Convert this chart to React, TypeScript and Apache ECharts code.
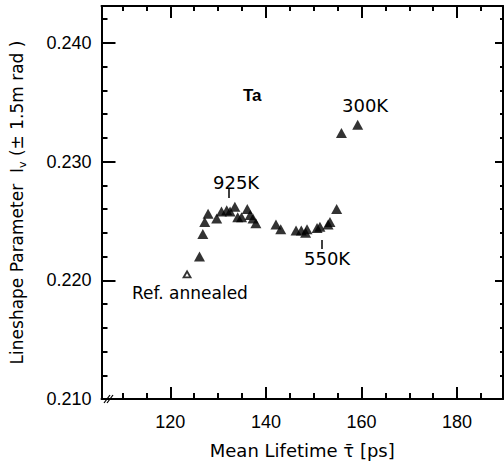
import React, { useEffect, useRef } from "react";
import * as echarts from "echarts";

// Mean lifetime [ps] and lineshape parameter (filled triangles)
const lifetime = [126.1, 126.8, 127.2, 127.9, 129.7, 130.7, 131.8, 132.5, 133.5, 134.1, 134.9, 136.1, 136.7, 137.3, 137.9, 142.1, 143.1, 146.3, 147.4, 148.3, 148.6, 150.7, 151.3, 153.0, 153.4, 154.8, 155.8, 159.2];
const lineshape = [0.2220, 0.2239, 0.2249, 0.2256, 0.2252, 0.2258, 0.2259, 0.2258, 0.2262, 0.2253, 0.2253, 0.2260, 0.2255, 0.2252, 0.2248, 0.2247, 0.2243, 0.2242, 0.2242, 0.2240, 0.2243, 0.2244, 0.2245, 0.2247, 0.2249, 0.2260, 0.2324, 0.2331];
// Reference annealed sample (open triangle)
const refLifetime = [123.5];
const refLineshape = [0.2205];

const xMajorTicks = [120, 140, 160, 180];
const xMinorTicks = [110, 115, 120, 125, 130, 135, 140, 145, 150, 155, 160, 165, 170, 175, 180, 185];
const yMajorTicks = [0.210, 0.220, 0.230, 0.240];
const yMinorTicks = [0.210, 0.212, 0.214, 0.216, 0.218, 0.220, 0.222, 0.224, 0.226, 0.228, 0.230, 0.232, 0.234, 0.236, 0.238, 0.240, 0.242];

const X_MIN = 105.6;
const X_MAX = 189.6;
const Y_MIN = 0.21;
const Y_MAX = 0.2431;

const FONT = "Liberation Sans";
const NFONT = "DejaVu Sans";

export default function App() {
  const ref = useRef<HTMLDivElement>(null);
  useEffect(() => {
    if (!ref.current) return;
    const chart = echarts.init(ref.current, undefined, { renderer: "svg" });
    const line = { show: true, lineStyle: { color: "#000", width: 2 } };
    const noLine = { show: false };
    const xBase = { type: "value", min: X_MIN, max: X_MAX, splitLine: { show: false } };
    const yBase = { type: "value", min: Y_MIN, max: Y_MAX, splitLine: { show: false } };
    const tick = (vals: number[], len: number, w: number) => ({
      show: true, inside: true, length: len, customValues: vals,
      lineStyle: { color: "#000", width: w },
    });
    chart.setOption({
      animation: false,
      backgroundColor: "#fff",
      grid: { left: 100, top: 6, right: 1, bottom: 72 },
      xAxis: [
        { ...xBase, position: "bottom", axisLine: line, axisTick: tick(xMinorTicks, 6, 2),
          axisLabel: { show: true, customValues: xMajorTicks, margin: 14, fontSize: 18, fontFamily: FONT, color: "#000" },
          name: "Mean Lifetime \u03C4\u0304 [ps]", nameLocation: "middle", nameGap: 42,
          nameTextStyle: { fontSize: 18, fontFamily: NFONT, color: "#000" } },
        { ...xBase, position: "bottom", axisLine: noLine, axisTick: tick(xMajorTicks, 12, 2), axisLabel: { show: false } },
        { ...xBase, position: "top", axisLine: line, axisTick: tick(xMinorTicks, 5, 2), axisLabel: { show: false } },
        { ...xBase, position: "top", axisLine: noLine, axisTick: tick(xMajorTicks, 12, 2), axisLabel: { show: false } },
      ],
      yAxis: [
        { ...yBase, position: "left", axisLine: line, axisTick: tick(yMinorTicks, 6, 2),
          axisLabel: { show: true, customValues: yMajorTicks, margin: 10, fontSize: 18, fontFamily: FONT, color: "#000",
            formatter: (v: number) => v.toFixed(3) },
          name: "{t|Lineshape Parameter  I}{s|v}{t| (\u00B1 1.5m rad )}", nameLocation: "middle", nameGap: 74,
          nameTextStyle: { color: "#000", rich: {
            t: { fontSize: 17, fontFamily: NFONT, color: "#000", lineHeight: 22 },
            s: { fontSize: 11, fontFamily: NFONT, color: "#000", lineHeight: 22, verticalAlign: "bottom" },
          } } },
        { ...yBase, position: "left", axisLine: noLine, axisTick: tick(yMajorTicks, 14, 2), axisLabel: { show: false } },
        { ...yBase, position: "right", axisLine: line, axisTick: tick(yMinorTicks, 3, 2), axisLabel: { show: false } },
        { ...yBase, position: "right", axisLine: noLine, axisTick: tick(yMajorTicks, 8, 2), axisLabel: { show: false } },
      ],
      series: [
        { type: "scatter", xAxisIndex: 0, yAxisIndex: 0, symbol: "triangle", symbolSize: [11, 10],
          itemStyle: { color: "#000" }, data: lifetime.map((x, i) => [x, lineshape[i]]) },
        { type: "scatter", xAxisIndex: 0, yAxisIndex: 0, symbol: "triangle", symbolSize: [7, 6],
          itemStyle: { color: "#fff", borderColor: "#000", borderWidth: 1.8 },
          data: refLifetime.map((x, i) => [x, refLineshape[i]]) },
      ],
      graphic: [
        { type: "text", x: 243, y: 95, style: { text: "Ta", fontSize: 17, fontWeight: "bold", fontFamily: FONT, fill: "#000", verticalAlign: "middle" } },
        { type: "text", x: 342, y: 105, style: { text: "300K", fontSize: 18, fontFamily: NFONT, fill: "#000", verticalAlign: "middle" } },
        { type: "text", x: 213, y: 182, style: { text: "925K", fontSize: 18, fontFamily: NFONT, fill: "#000", verticalAlign: "middle" } },
        { type: "line", shape: { x1: 229, y1: 189, x2: 229, y2: 198 }, style: { stroke: "#000", lineWidth: 1.5 } },
        { type: "text", x: 304, y: 258, style: { text: "550K", fontSize: 18, fontFamily: NFONT, fill: "#000", verticalAlign: "middle" } },
        { type: "line", shape: { x1: 322, y1: 240, x2: 322, y2: 249 }, style: { stroke: "#000", lineWidth: 1.5 } },
        { type: "text", x: 132, y: 293, style: { text: "Ref. annealed", fontSize: 17, fontFamily: NFONT, fill: "#000", verticalAlign: "middle" } },
        { type: "line", shape: { x1: 104, y1: 403, x2: 110, y2: 395 }, style: { stroke: "#000", lineWidth: 1.2 } },
        { type: "line", shape: { x1: 107, y1: 403, x2: 113, y2: 395 }, style: { stroke: "#000", lineWidth: 1.2 } },
      ],
    });
    return () => chart.dispose();
  }, []);
  return <div ref={ref} style={{ width: 504, height: 471, position: "absolute", left: 0, top: 0 }} />;
}
